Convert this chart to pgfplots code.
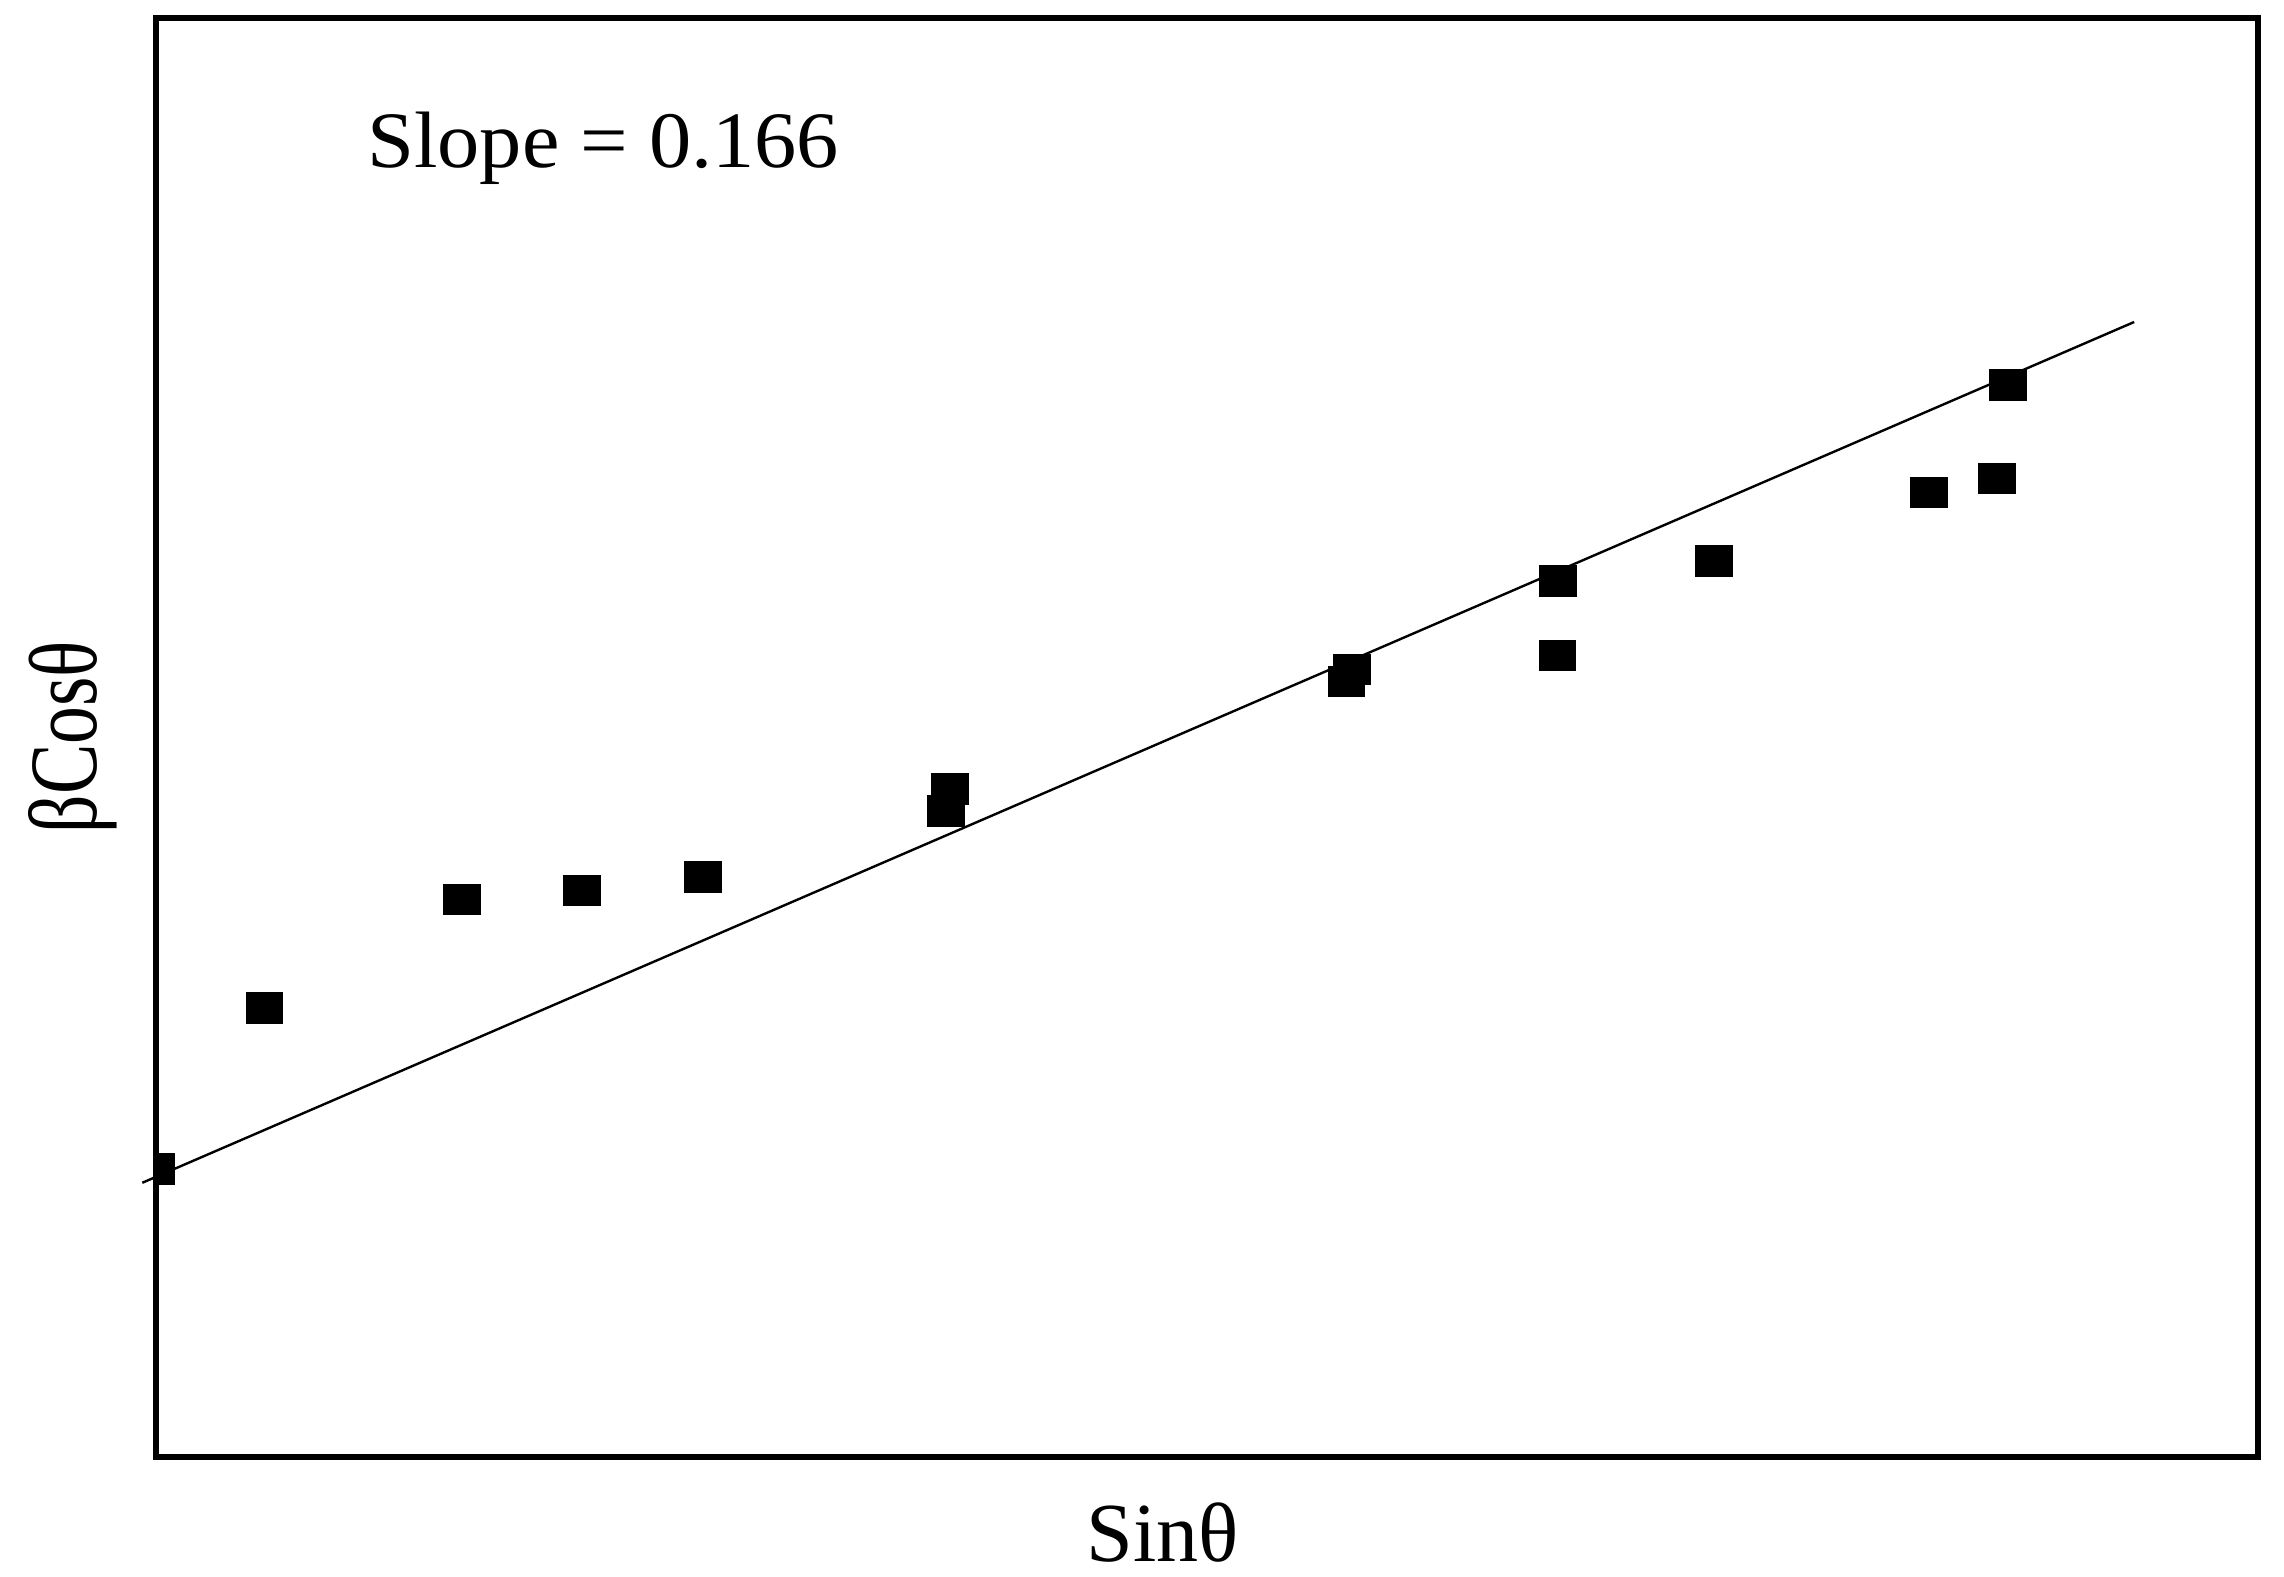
\documentclass[border=0pt]{standalone}
\usepackage{fontspec}
\setmainfont{Liberation Serif}
\usepackage{graphicx}
\usepackage{pgfplots}
\pgfplotsset{compat=1.18}
\begin{document}
\begin{tikzpicture}
\pgfplotsset{common/.style={width=525.5pt,height=359.75pt,scale only axis,
  xmin=107,xmax=1550,ymin=0,ymax=988,xtick=\empty,ytick=\empty,
  at={(0,0)},anchor=south west}}
\begin{axis}[common, axis lines=none, clip=false]
\addplot[black, line width=0.6pt, no marks] coordinates {(97.6,188) (1465,779)};
\node[font=\fontsize{20}{24}\selectfont, inner sep=0pt] at (axis cs:414,898.5) {\scalebox{1.055}[1]{Slope = 0.166}};
\node[font=\fontsize{21}{25}\selectfont, inner sep=0pt] at (axis cs:798,-52) {Sinθ};
\node[rotate=90, font=\fontsize{21}{25}\selectfont, inner sep=0pt] at (axis cs:50,494) {\scalebox{0.9}[1.15]{βCosθ}};
\end{axis}
\begin{axis}[common, axis line style={line width=1.5pt}, clip=true, clip marker paths=true]
\addplot[only marks, mark=square*, mark size=3.75pt, mark options={fill=black, draw=none, xscale=1.2}] coordinates {
(107,197.5)
(181.4,308)
(317,382.5)
(399.4,388.7)
(482.6,398)
(652,458.3)
(649.5,443.2)
(928,540.5)
(924.3,532.2)
(1069.6,601.2)
(1069,550)
(1176.4,615)
(1324.3,662)
(1370.8,671.6)
(1378.4,735.7)
};
\end{axis}
\pgfresetboundingbox
\path (-39pt,-30pt) rectangle (532pt,364.15pt);
\end{tikzpicture}
\end{document}
